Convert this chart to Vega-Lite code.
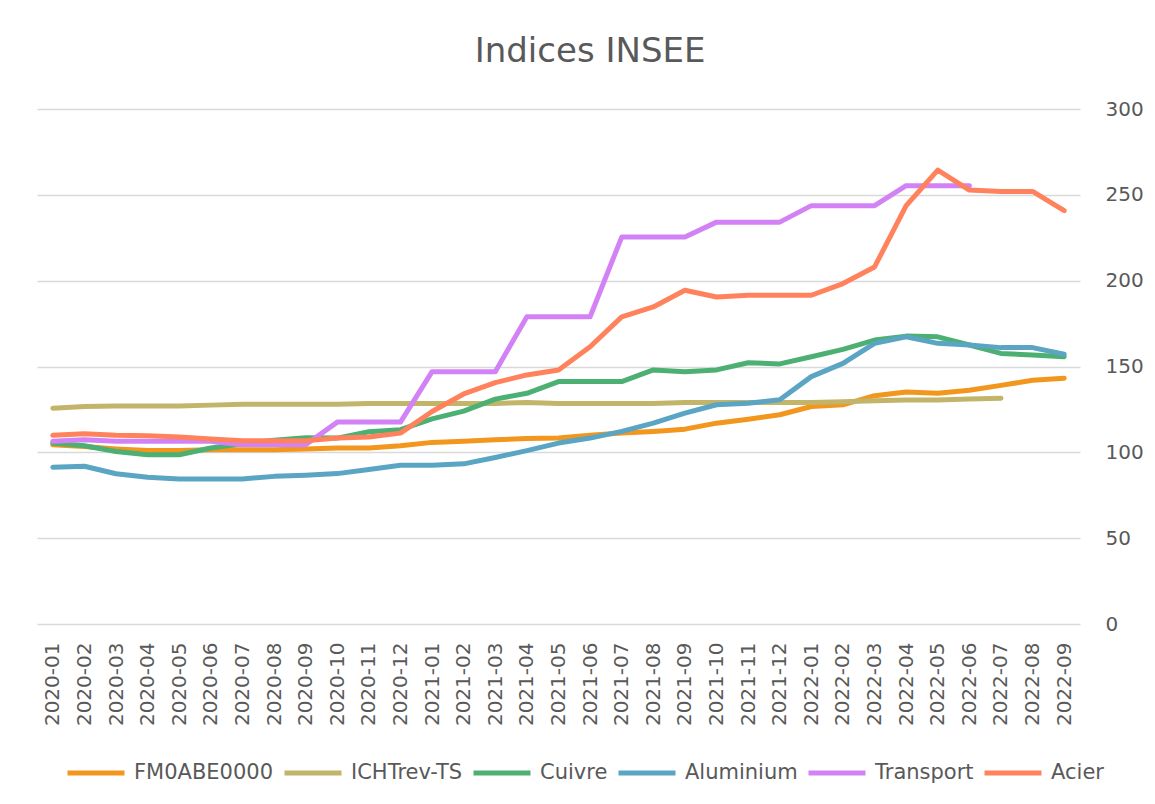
{
  "$schema": "https://vega.github.io/schema/vega-lite/v6.json",
  "width": 1043,
  "height": 515,
  "autosize": {"type": "none"},
  "padding": {"left": 37, "top": 109, "right": 75, "bottom": 180},
  "background": "white",
  "title": {
    "text": "Indices INSEE",
    "font": "DejaVu Sans",
    "fontSize": 34,
    "fontWeight": "normal",
    "color": "#595959",
    "anchor": "middle",
    "frame": "bounds",
    "baseline": "alphabetic",
    "offset": 3
  },
  "data": {
    "values": [
      {"m": "2020-01", "FM0ABE0000": 104.4, "ICHTrev-TS": 125.7, "Cuivre": 105.4, "Aluminium": 91.3, "Transport": 106.4, "Acier": 109.9},
      {"m": "2020-02", "FM0ABE0000": 103.4, "ICHTrev-TS": 126.7, "Cuivre": 103.8, "Aluminium": 91.9, "Transport": 107.3, "Acier": 110.8},
      {"m": "2020-03", "FM0ABE0000": 102.0, "ICHTrev-TS": 127.0, "Cuivre": 100.5, "Aluminium": 87.5, "Transport": 106.4, "Acier": 109.9},
      {"m": "2020-04", "FM0ABE0000": 101.0, "ICHTrev-TS": 127.0, "Cuivre": 98.6, "Aluminium": 85.5, "Transport": 106.4, "Acier": 109.6},
      {"m": "2020-05", "FM0ABE0000": 101.0, "ICHTrev-TS": 127.0, "Cuivre": 98.6, "Aluminium": 84.5, "Transport": 106.4, "Acier": 108.9},
      {"m": "2020-06", "FM0ABE0000": 101.5, "ICHTrev-TS": 127.5, "Cuivre": 102.5, "Aluminium": 84.5, "Transport": 106.4, "Acier": 107.7},
      {"m": "2020-07", "FM0ABE0000": 101.5, "ICHTrev-TS": 128.0, "Cuivre": 105.0, "Aluminium": 84.5, "Transport": 104.4, "Acier": 106.8},
      {"m": "2020-08", "FM0ABE0000": 101.5, "ICHTrev-TS": 128.0, "Cuivre": 107.0, "Aluminium": 86.0, "Transport": 104.4, "Acier": 106.8},
      {"m": "2020-09", "FM0ABE0000": 102.0, "ICHTrev-TS": 128.0, "Cuivre": 108.5, "Aluminium": 86.7, "Transport": 104.4, "Acier": 106.8},
      {"m": "2020-10", "FM0ABE0000": 102.5, "ICHTrev-TS": 128.0, "Cuivre": 108.3, "Aluminium": 87.6, "Transport": 117.6, "Acier": 108.3},
      {"m": "2020-11", "FM0ABE0000": 102.5, "ICHTrev-TS": 128.5, "Cuivre": 112.0, "Aluminium": 90.0, "Transport": 117.6, "Acier": 108.9},
      {"m": "2020-12", "FM0ABE0000": 103.8, "ICHTrev-TS": 128.5, "Cuivre": 113.2, "Aluminium": 92.5, "Transport": 117.6, "Acier": 111.2},
      {"m": "2021-01", "FM0ABE0000": 105.8, "ICHTrev-TS": 128.5, "Cuivre": 119.5, "Aluminium": 92.5, "Transport": 147.0, "Acier": 123.8},
      {"m": "2021-02", "FM0ABE0000": 106.4, "ICHTrev-TS": 128.5, "Cuivre": 124.0, "Aluminium": 93.3, "Transport": 147.0, "Acier": 134.0},
      {"m": "2021-03", "FM0ABE0000": 107.4, "ICHTrev-TS": 128.5, "Cuivre": 131.0, "Aluminium": 97.0, "Transport": 147.0, "Acier": 140.6},
      {"m": "2021-04", "FM0ABE0000": 108.0, "ICHTrev-TS": 129.0, "Cuivre": 134.4, "Aluminium": 101.0, "Transport": 179.0, "Acier": 145.1},
      {"m": "2021-05", "FM0ABE0000": 108.3, "ICHTrev-TS": 128.5, "Cuivre": 141.2, "Aluminium": 105.4, "Transport": 179.0, "Acier": 148.0},
      {"m": "2021-06", "FM0ABE0000": 110.0, "ICHTrev-TS": 128.5, "Cuivre": 141.2, "Aluminium": 108.3, "Transport": 179.0, "Acier": 161.5},
      {"m": "2021-07", "FM0ABE0000": 111.2, "ICHTrev-TS": 128.5, "Cuivre": 141.2, "Aluminium": 112.2, "Transport": 225.4, "Acier": 178.9},
      {"m": "2021-08", "FM0ABE0000": 112.2, "ICHTrev-TS": 128.5, "Cuivre": 148.0, "Aluminium": 117.0, "Transport": 225.4, "Acier": 184.7},
      {"m": "2021-09", "FM0ABE0000": 113.5, "ICHTrev-TS": 129.0, "Cuivre": 147.0, "Aluminium": 122.8, "Transport": 225.4, "Acier": 194.4},
      {"m": "2021-10", "FM0ABE0000": 117.0, "ICHTrev-TS": 129.0, "Cuivre": 148.0, "Aluminium": 127.7, "Transport": 234.1, "Acier": 190.5},
      {"m": "2021-11", "FM0ABE0000": 119.3, "ICHTrev-TS": 129.0, "Cuivre": 152.2, "Aluminium": 128.6, "Transport": 234.1, "Acier": 191.5},
      {"m": "2021-12", "FM0ABE0000": 121.9, "ICHTrev-TS": 129.0, "Cuivre": 151.5, "Aluminium": 130.6, "Transport": 234.1, "Acier": 191.5},
      {"m": "2022-01", "FM0ABE0000": 126.7, "ICHTrev-TS": 129.0, "Cuivre": 155.7, "Aluminium": 144.1, "Transport": 243.7, "Acier": 191.5},
      {"m": "2022-02", "FM0ABE0000": 127.7, "ICHTrev-TS": 129.5, "Cuivre": 160.0, "Aluminium": 151.8, "Transport": 243.7, "Acier": 198.3},
      {"m": "2022-03", "FM0ABE0000": 133.0, "ICHTrev-TS": 130.0, "Cuivre": 165.4, "Aluminium": 163.5, "Transport": 243.7, "Acier": 208.0},
      {"m": "2022-04", "FM0ABE0000": 135.2, "ICHTrev-TS": 130.5, "Cuivre": 167.7, "Aluminium": 167.3, "Transport": 255.3, "Acier": 243.7},
      {"m": "2022-05", "FM0ABE0000": 134.4, "ICHTrev-TS": 130.5, "Cuivre": 167.3, "Aluminium": 163.5, "Transport": 255.3, "Acier": 264.4},
      {"m": "2022-06", "FM0ABE0000": 136.2, "ICHTrev-TS": 131.0, "Cuivre": 162.5, "Aluminium": 162.5, "Transport": 255.3, "Acier": 252.8},
      {"m": "2022-07", "FM0ABE0000": 139.0, "ICHTrev-TS": 131.5, "Cuivre": 157.6, "Aluminium": 161.0, "Acier": 252.0},
      {"m": "2022-08", "FM0ABE0000": 142.0, "Cuivre": 156.7, "Aluminium": 161.0, "Acier": 252.0},
      {"m": "2022-09", "FM0ABE0000": 143.2, "Cuivre": 155.7, "Aluminium": 157.1, "Acier": 240.8}
    ]
  },
  "transform": [
    {"fold": ["FM0ABE0000", "ICHTrev-TS", "Cuivre", "Aluminium", "Transport", "Acier"], "as": ["serie", "valeur"]},
    {"filter": "datum.valeur != null"}
  ],
  "mark": {"type": "line", "strokeWidth": 5, "strokeCap": "round", "strokeJoin": "round"},
  "encoding": {
    "x": {
      "field": "m",
      "type": "ordinal",
      "sort": null,
      "scale": {"type": "point", "padding": 0.5},
      "axis": {
        "title": null,
        "labelAngle": -90,
        "labelFont": "DejaVu Sans",
        "labelFontSize": 20,
        "labelColor": "#595959",
        "ticks": false,
        "tickSize": 0,
        "domain": false,
        "grid": false,
        "labelPadding": 18
      }
    },
    "y": {
      "field": "valeur",
      "type": "quantitative",
      "scale": {"domain": [0, 300], "nice": false, "zero": true},
      "axis": {
        "orient": "right",
        "title": null,
        "values": [0, 50, 100, 150, 200, 250, 300],
        "grid": true,
        "gridColor": "#d9d9d9",
        "gridWidth": 1.5,
        "domain": false,
        "ticks": false,
        "labelPadding": 25,
        "labelFont": "DejaVu Sans",
        "labelFontSize": 20,
        "labelColor": "#595959"
      }
    },
    "color": {
      "field": "serie",
      "type": "nominal",
      "sort": ["FM0ABE0000", "ICHTrev-TS", "Cuivre", "Aluminium", "Transport", "Acier"],
      "scale": {
        "domain": ["FM0ABE0000", "ICHTrev-TS", "Cuivre", "Aluminium", "Transport", "Acier"],
        "range": ["#f2961e", "#c2b56a", "#4cb073", "#5aa5c3", "#d282f5", "#ff825c"]
      },
      "legend": {
        "orient": "none",
        "legendX": 28,
        "legendY": 633,
        "direction": "horizontal",
        "title": null,
        "padding": 0,
        "symbolType": "stroke",
        "symbolSize": 3249,
        "symbolStrokeWidth": 5,
        "labelFont": "DejaVu Sans",
        "labelFontSize": 21,
        "labelColor": "#595959",
        "labelOffset": 7,
        "columnPadding": 0
      }
    }
  },
  "config": {
    "view": {"stroke": null}
  }
}
